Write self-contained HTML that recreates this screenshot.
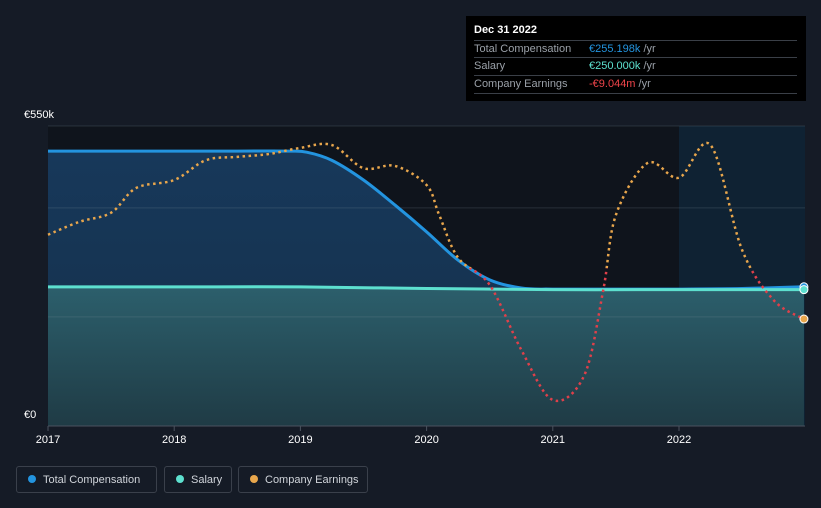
<!DOCTYPE html>
<html><head><meta charset="utf-8">
<style>
html,body{margin:0;padding:0;background:#151b26;}
body{width:821px;height:508px;overflow:hidden;font-family:"Liberation Sans",sans-serif;position:relative;}
.tip{position:absolute;left:466px;top:16px;width:340px;height:85px;background:#000;color:#fff;font-size:11px;}
.tip .row{position:absolute;left:8px;width:323px;border-top:1px solid #3a3f47;height:17px;line-height:17px;color:#9aa0a8;}
.leg{position:absolute;top:466px;height:27px;border:1px solid #3a404b;border-radius:3px;color:#d0d4da;font-size:11px;line-height:27px;box-sizing:border-box;}
.dot{display:inline-block;width:8px;height:8px;border-radius:50%;margin:0 7px 0 11px;vertical-align:-0px;}
</style></head><body>
<svg id="chart" width="821" height="508" style="position:absolute;left:0;top:0">
<defs>
<linearGradient id="tcg" x1="0" y1="0" x2="0" y2="1"><stop offset="0" stop-color="#17385a"/><stop offset="1" stop-color="#15304a"/></linearGradient>
<linearGradient id="sg" x1="0" y1="0" x2="0" y2="1"><stop offset="0" stop-color="#2c5f6c"/><stop offset="1" stop-color="#1f3b45"/></linearGradient>
<clipPath id="above"><rect x="0" y="0" width="821" height="0" id="clipA"/></clipPath>
<clipPath id="below"><rect x="0" y="0" width="821" height="508" id="clipB"/></clipPath>
</defs>
<rect x="48" y="126" width="631" height="300" fill="#0f141c"/>
<rect x="679" y="126" width="126" height="300" fill="#0f2233"/>
<g id="series"></g>
<g id="grid"></g>
<g id="lines"></g>
<g id="axis"></g>
</svg>
<div class="tip">
<div style="position:absolute;left:8px;top:8px;font-weight:bold;font-size:11px">Dec 31 2022</div>
<div class="row" style="top:24px">Total Compensation<span style="position:absolute;left:115px;color:#2394df">€255.198k <span style="color:#9aa0a8">/yr</span></span></div>
<div class="row" style="top:41px">Salary<span style="position:absolute;left:115px;color:#5de0cf">€250.000k <span style="color:#9aa0a8">/yr</span></span></div>
<div class="row" style="top:59px;border-bottom:1px solid #3a3f47">Company Earnings<span style="position:absolute;left:115px;color:#f0444a">-€9.044m <span style="color:#9aa0a8">/yr</span></span></div>
</div>
<div class="leg" style="left:16px;width:141px"><span class="dot" style="background:#2394df"></span>Total Compensation</div>
<div class="leg" style="left:164px;width:68px"><span class="dot" style="background:#5de0cf"></span>Salary</div>
<div class="leg" style="left:238px;width:130px"><span class="dot" style="background:#e8a64c"></span>Company Earnings</div>
<script>
const compYears=[2017,2017.5,2018,2018.5,2018.9,2019.05,2019.25,2019.5,2019.75,2020,2020.25,2020.5,2020.75,2021,2021.5,2022,2022.5,2022.99];
const compValues=[504,504,504,504,504,502,487,451,405,356,304,268,253,251,251,251,252,255.2];
const salaryYears=[2017,2018,2019,2020,2021,2022,2022.99];
const salaryValues=[255,255,255,252,250,250,250];
const earnYears=[2017,2017.25,2017.5,2017.7,2018,2018.25,2018.5,2018.75,2019,2019.25,2019.5,2019.75,2020,2020.1,2020.25,2020.5,2020.75,2021,2021.25,2021.4,2021.5,2021.75,2022,2022.25,2022.5,2022.75,2022.99];
const earnValues=[5.9,8.2,9.8,14.2,15.6,19.1,19.7,20.2,21.3,21.8,17.7,18.1,14.7,9.4,1.8,-3.0,-14.5,-23.4,-19.0,-3.9,9.4,18.6,16.0,21.8,3.2,-5.7,-9.044];
const yTicks=[0,200,400,550];
const yTickLabels={0:"€0",550:"€550k"};
const xTicks=[2017,2018,2019,2020,2021,2022];

const NS="http://www.w3.org/2000/svg";
const x=t=>48+(t-2017)*126.2;
const y=v=>426-v*300/550;
const ye=v=>268-v*5.64;
function el(tag,attrs,parent){const e=document.createElementNS(NS,tag);for(const k in attrs)e.setAttribute(k,attrs[k]);parent.appendChild(e);return e;}
function smooth(pts){let d="M"+pts[0][0]+","+pts[0][1];for(let i=0;i<pts.length-1;i++){const p0=pts[i-1]||pts[i],p1=pts[i],p2=pts[i+1],p3=pts[i+2]||p2;
const c1=[p1[0]+(p2[0]-p0[0])/6,p1[1]+(p2[1]-p0[1])/6],c2=[p2[0]-(p3[0]-p1[0])/6,p2[1]-(p3[1]-p1[1])/6];
d+=" C"+c1[0]+","+c1[1]+" "+c2[0]+","+c2[1]+" "+p2[0]+","+p2[1];}return d;}
const grid=document.getElementById('grid'),ser=document.getElementById('series'),lines=document.getElementById('lines'),ax=document.getElementById('axis');
yTicks.forEach(v=>{const g=el('line',{x1:48,x2:805,y1:y(v),y2:y(v),stroke:'#8090a0','stroke-opacity':0.22,'stroke-width':1},grid);

if(yTickLabels[v]!==undefined){const t=el('text',{x:24,y:y(v)-8,fill:'#fff','font-size':11},ax);t.textContent=yTickLabels[v];
}});
el('line',{x1:48,x2:805,y1:426,y2:426,stroke:'#4a525e'},ax);
xTicks.forEach(v=>{const l=el('line',{x1:x(v),x2:x(v),y1:426,y2:431,stroke:'#4a525e'},ax);

const t=el('text',{x:x(v),y:443,fill:'#fff','font-size':11,'text-anchor':'middle'},ax);t.textContent=v;
});
const cp=compYears.map((t,i)=>[x(t),y(compValues[i])]);
const sp=salaryYears.map((t,i)=>[x(t),y(salaryValues[i])]);
const cd=smooth(cp),sd=smooth(sp);
const ca=el('path',{d:cd+" L"+x(2022.99)+",426 L48,426 Z",fill:'url(#tcg)'},ser);

const sa=el('path',{d:sd+" L"+x(2022.99)+",426 L48,426 Z",fill:'url(#sg)'},ser);

const cl=el('path',{d:cd,fill:'none',stroke:'#2394df','stroke-width':3},lines);

const sl=el('path',{d:sd,fill:'none',stroke:'#5de0cf','stroke-width':3},lines);

const z=ye(0);
document.getElementById('clipA').setAttribute('height',z);
document.getElementById('clipB').setAttribute('y',z);
const ep=earnYears.map((t,i)=>[x(t),ye(earnValues[i])]);const ed=smooth(ep);
const e1=el('path',{d:ed,fill:'none',stroke:'#e8a64c','stroke-width':2.5,'stroke-dasharray':'2.5 3.5','clip-path':'url(#above)'},lines);

const e2=el('path',{d:ed,fill:'none',stroke:'#e0404a','stroke-width':2.5,'stroke-dasharray':'2.5 3.5','clip-path':'url(#below)'},lines);

const lc=compYears.length-1,ls=salaryYears.length-1,le=earnYears.length-1;
const d1=el('circle',{cx:x(compYears[lc]),cy:y(compValues[lc]),r:4,fill:'#2394df',stroke:'#fff','stroke-width':1},lines);

const d2=el('circle',{cx:x(salaryYears[ls]),cy:y(salaryValues[ls]),r:4,fill:'#5de0cf',stroke:'#fff','stroke-width':1},lines);

const d3=el('circle',{cx:x(earnYears[le]),cy:ye(earnValues[le]),r:4,fill:'#e8a64c',stroke:'#fff','stroke-width':1},lines);

</script>
</body></html>
